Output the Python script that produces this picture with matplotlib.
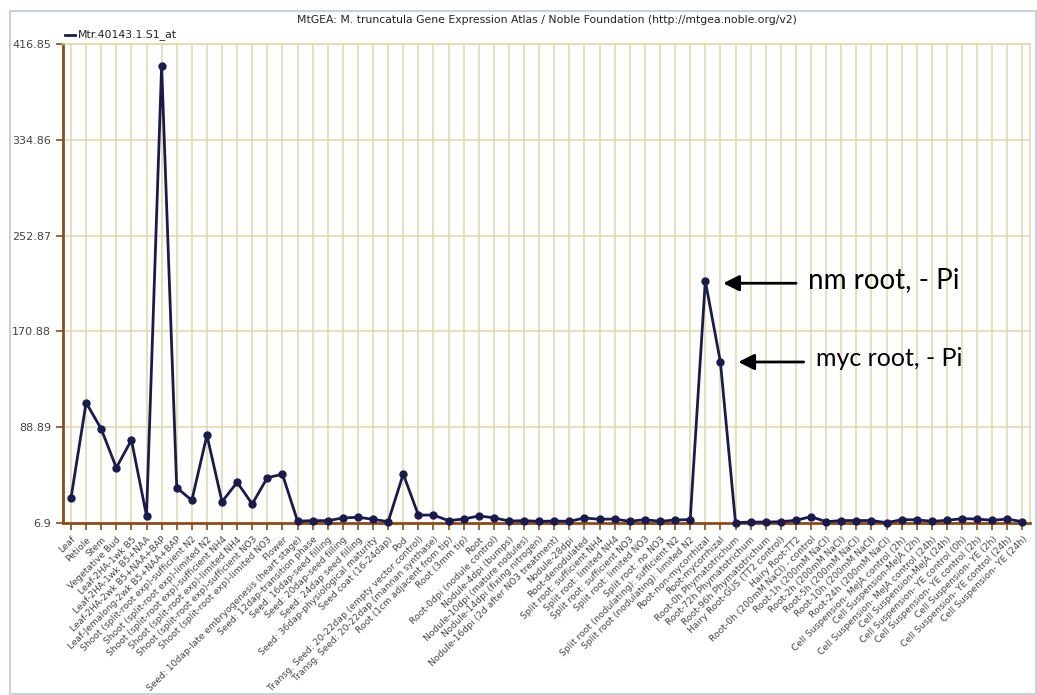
import matplotlib
matplotlib.use("Agg")
import matplotlib.pyplot as plt
from matplotlib.patches import Rectangle

categories = [
    "Leaf", "Petiole", "Stem", "Vegetative Bud", "Leaf-2HA-1wk B5",
    "Leaf-2HA-1wk B5+NAA", "Leaf-2HA-2wk B5+NAA+BAP", "Leaf-Jemalong-2wk B5+NAA+BAP",
    "Shoot (split-root exp)-sufficient N2", "Shoot (split-root exp)-limited N2",
    "Shoot (split-root exp)-sufficient NH4", "Shoot (split-root exp)-limited NH4",
    "Shoot (split-root exp)-sufficient NO3", "Shoot (split-root exp)-limited NO3",
    "Flower", "Seed: 10dap-late embryogenesis (heart stage)",
    "Seed: 12dap-transition phase", "Seed: 16dap-seed filling",
    "Seed: 20dap-seed filling", "Seed: 24dap seed filling",
    "Seed: 36dap-physiological maturity", "Seed coat (16-24dap)", "Pod",
    "Transg. Seed: 20-22dap (empty vector control)",
    "Transg. Seed: 20-22dap (mannan synthase)", "Root (1cm adjacent from tip)",
    "Root (3mm tip)", "Root", "Root-0dpi (nodule control)", "Nodule-4dpi (bumps)",
    "Nodule-10dpi (mature nodules)", "Nodule-14dpi (fixing nitrogen)",
    "Nodule-16dpi (2d after NO3 treatment)", "Nodule-28dpi", "Root-denodulated",
    "Split root: sufficient NH4", "Split root: limited NH4",
    "Split root: sufficient NO3", "Split root: limited NO3", "Split root: no NO3",
    "Split root (nodulating): sufficient N2", "Split root (nodulating): limited N2",
    "Root-non-mycorrhizal", "Root-mycorrhizal", "Root-0h Phymatotrichum",
    "Root-72h Phymatotrichum", "Root-96h Phymatotrichum",
    "Hairy Root-GUS (TT2 control)", "Hairy Root-TT2",
    "Root-0h (200mM NaCl) - control", "Root-1h (200mM NaCl)",
    "Root-2h (200mM NaCl)", "Root-5h (200mM NaCl)", "Root-10h (200mM NaCl)",
    "Root-24h (200mM NaCl)", "Cell Suspension- MeJA control (2h)",
    "Cell Suspension-MeJA (2h)", "Cell Suspension- MeJA control (24h)",
    "Cell Suspension-MeJA (24h)", "Cell Suspension- YE control (0h)",
    "Cell Suspension- YE control (2h)", "Cell Suspension- YE (2h)",
    "Cell Suspension- YE control (24h)", "Cell Suspension- YE (24h)",
]

values = [
    28.3, 109.9, 87.4, 54.2, 77.9, 13.1, 398.4, 37.1, 26.3, 82.0,
    25.1, 41.7, 23.2, 45.7, 48.6, 8.5, 8.9, 8.9, 11.2, 11.8,
    10.1, 8.0, 48.8, 13.7, 13.7, 8.9, 10.3, 12.9, 11.4, 8.6,
    8.9, 8.3, 8.6, 8.3, 11.2, 10.1, 10.3, 8.3, 9.8, 8.3,
    9.5, 9.8, 214.1, 144.7, 7.2, 7.7, 7.7, 8.0, 9.2, 12.3,
    8.0, 9.0, 9.0, 9.0, 7.2, 9.7, 9.7, 8.3, 9.2, 10.6,
    10.3, 9.2, 10.3, 8.0,
]

y_ticks = [6.9, 88.89, 170.88, 252.87, 334.86, 416.85]
y_tick_labels = ["6.9", "88.89", "170.88", "252.87", "334.86", "416.85"]

series_name = "Mtr.40143.1.S1_at"
title = "MtGEA: M. truncatula Gene Expression Atlas / Noble Foundation (http://mtgea.noble.org/v2)"

W, H = 1037, 695
fig = plt.figure(figsize=(W / 100, H / 100), dpi=100)
fig.patch.set_facecolor("white")

# outer frame
fig.patches.append(Rectangle((10 / W, 1 / H), 1026 / W, (H - 12) / H,
                             transform=fig.transFigure, fill=False,
                             edgecolor="#c4c4dc", lw=1.2))

left, right, bottom, top = 63 / W, 1030 / W, 1 - 523 / H, 1 - 44 / H
ax = fig.add_axes([left, bottom, right - left, top - bottom])

n = len(values)
xs = list(range(n))
grid_c = "#e0d6ae"
axis_c = "#8b4a1c"

ax.set_xlim(-0.53, n - 1 + 0.5)
ax.set_ylim(y_ticks[0], y_ticks[-1])

for x in xs:
    ax.axvline(x, color=grid_c, lw=1.1, zorder=1)
for y in y_ticks[1:]:
    ax.axhline(y, color=grid_c, lw=1.1, zorder=1)

ax.plot(xs, values, color="#1b1b4b", lw=2.0, marker="o", markersize=5,
        zorder=3, clip_on=False)

ax.set_yticks(y_ticks)
ax.set_yticklabels(y_tick_labels, fontsize=8, color="#333333")
ax.set_xticks(xs)
ax.set_xticklabels(categories, rotation=45, ha="right", rotation_mode="anchor",
                   fontsize=6.6, color="#444444")
ax.tick_params(axis="both", colors=axis_c, length=5, width=1.2,
               labelcolor="#444444")

for s in ["top", "right"]:
    ax.spines[s].set_color(grid_c)
    ax.spines[s].set_linewidth(1.1)
for s in ["left", "bottom"]:
    ax.spines[s].set_color(axis_c)
    ax.spines[s].set_linewidth(2)

# title & legend
fig.text((left + right) / 2, 1 - 20 / H, title, ha="center", va="center",
         fontsize=7.8, color="#222222")
fig.lines.append(plt.Line2D([65 / W, 75 / W], [1 - 35 / H, 1 - 35 / H],
                            transform=fig.transFigure, color="#1b1b4b", lw=2))
fig.text(78 / W, 1 - 35 / H, series_name, ha="left", va="center",
         fontsize=7.8, color="#222222")

# annotations
i_nm = categories.index("Root-non-mycorrhizal")
i_myc = categories.index("Root-mycorrhizal")
ax.annotate("", xy=(i_nm + 1.0, values[i_nm] - 2), xytext=(i_nm + 6.2, values[i_nm] - 2),
            arrowprops=dict(arrowstyle="-|>", color="black", lw=2, mutation_scale=24),
            zorder=5)
ax.text(i_nm + 6.8, values[i_nm] + 1, "nm root, - Pi", ha="left", va="center",
        fontsize=20, family="Lato", color="black")
ax.annotate("", xy=(i_myc + 1.0, values[i_myc]), xytext=(i_myc + 5.7, values[i_myc]),
            arrowprops=dict(arrowstyle="-|>", color="black", lw=2, mutation_scale=24),
            zorder=5)
ax.text(i_myc + 6.3, values[i_myc] + 3, "myc root, - Pi", ha="left", va="center",
        fontsize=18, family="Lato", color="black")

fig.savefig("out.png", dpi=100)
